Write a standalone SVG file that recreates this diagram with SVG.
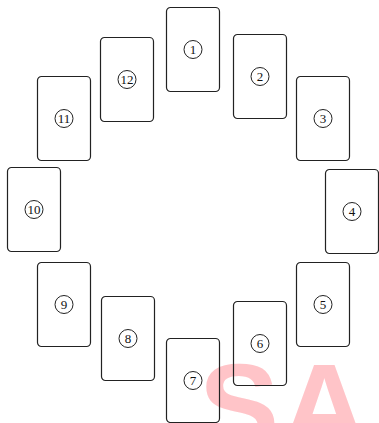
<svg xmlns="http://www.w3.org/2000/svg" width="379" height="423" viewBox="0 0 379 423">
<style>
.card{fill:none;stroke:#222;stroke-width:1.2}
.num{fill:#fff;stroke:#222;stroke-width:1}
.lbl{font-family:"Liberation Serif","DejaVu Serif",serif;font-size:13px;fill:#111;text-anchor:middle;dominant-baseline:central}
.wm{font-family:"Liberation Sans",Arial,sans-serif;font-weight:bold;font-size:120px;fill:#ffc4c8}
</style>
<rect width="379" height="423" fill="#fff"/>
<text class="wm" x="199" y="448">S<tspan x="281">A</tspan></text>
<defs>
<g id="c"><rect class="card" x="0" y="0" width="53" height="84" rx="4"/><circle class="num" cx="26.5" cy="42" r="9"/></g>
</defs>
<g id="connectors"></g>
<g id="n1" transform="translate(166.5,7.5)"><use href="#c"/><text class="lbl" x="26.5" y="42">1</text></g>
<g id="n2" transform="translate(233.5,34.5)"><use href="#c"/><text class="lbl" x="26.5" y="42">2</text></g>
<g id="n3" transform="translate(296.5,76.5)"><use href="#c"/><text class="lbl" x="26.5" y="42">3</text></g>
<g id="n4" transform="translate(325.5,169.5)"><use href="#c"/><text class="lbl" x="26.5" y="42">4</text></g>
<g id="n5" transform="translate(296.5,262.5)"><use href="#c"/><text class="lbl" x="26.5" y="42">5</text></g>
<g id="n6" transform="translate(233.5,301.5)"><use href="#c"/><text class="lbl" x="26.5" y="42">6</text></g>
<g id="n7" transform="translate(166.5,338.5)"><use href="#c"/><text class="lbl" x="26.5" y="42">7</text></g>
<g id="n8" transform="translate(101.5,296.5)"><use href="#c"/><text class="lbl" x="26.5" y="42">8</text></g>
<g id="n9" transform="translate(37.5,262.5)"><use href="#c"/><text class="lbl" x="26.5" y="42">9</text></g>
<g id="n10" transform="translate(7.5,167.5)"><use href="#c"/><text class="lbl" x="26.5" y="42">10</text></g>
<g id="n11" transform="translate(37.5,76.5)"><use href="#c"/><text class="lbl" x="26.5" y="42">11</text></g>
<g id="n12" transform="translate(100.5,37.5)"><use href="#c"/><text class="lbl" x="26.5" y="42">12</text></g>
</svg>
